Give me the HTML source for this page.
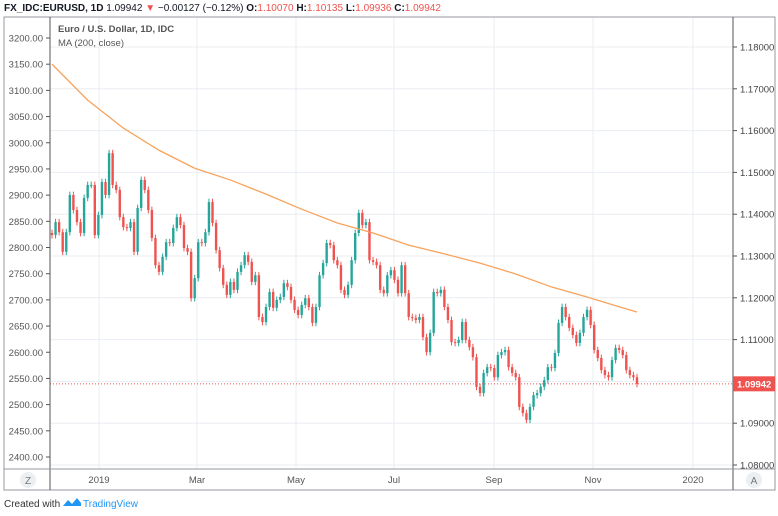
<!DOCTYPE html>
<html><head><meta charset="utf-8"><style>
body{margin:0;background:#fff;font-family:"Liberation Sans",sans-serif;}
svg text{font-family:"Liberation Sans",sans-serif;}
</style></head><body>
<svg id="c" width="778" height="511" xmlns="http://www.w3.org/2000/svg">
<text x="4" y="11" font-size="10" fill="#131722"><tspan font-weight="bold">FX_IDC:EURUSD, 1D</tspan> 1.09942 <tspan fill="#ef5350">▼</tspan> −0.00127 (−0.12%) <tspan font-weight="bold">O:</tspan><tspan fill="#ef5350">1.10070</tspan> <tspan font-weight="bold">H:</tspan><tspan fill="#ef5350">1.10135</tspan> <tspan font-weight="bold">L:</tspan><tspan fill="#ef5350">1.09936</tspan> <tspan font-weight="bold">C:</tspan><tspan fill="#ef5350">1.09942</tspan></text>
<g id="grid"></g>
<g id="marks"></g>
<rect x="4" y="17" width="771" height="473" fill="none" stroke="#9598a1" stroke-width="1"/>
<line x1="50" y1="17" x2="50" y2="490" stroke="#555"/>
<line x1="733" y1="17" x2="733" y2="490" stroke="#555"/>
<line x1="4" y1="469" x2="775" y2="469" stroke="#9598a1"/>
<text x="58" y="32" font-size="9.5" font-weight="bold" fill="#555">Euro / U.S. Dollar, 1D, IDC</text>
<text x="58" y="46" font-size="9.5" fill="#555">MA (200, close)</text>
<g id="axes"></g>
<circle cx="28" cy="480" r="8" fill="#eceff2"/>
<text x="28" y="484" font-size="10" fill="#777" text-anchor="middle">Z</text>
<circle cx="754" cy="480" r="8" fill="#eceff2"/>
<text x="754" y="484" font-size="10" fill="#777" text-anchor="middle">A</text>
<text x="4" y="507" font-size="10" fill="#333">Created with</text>
<path d="M63 506 l5 -6 l4 4 l5 -6 l4 5 v3 z" fill="#2196f3"/>
<text x="83" y="507" font-size="10" fill="#2196f3">TradingView</text>
</svg>
<script>
const closes=[1.1350,1.1381,1.1357,1.1310,1.1357,1.1446,1.1410,1.1381,1.1355,1.1439,1.1470,1.1470,1.1350,1.1398,1.1477,1.1446,1.1546,1.1470,1.1458,1.1393,1.1369,1.1367,1.1381,1.1310,1.1415,1.1482,1.1458,1.1410,1.1343,1.1278,1.1262,1.1298,1.1333,1.1331,1.1367,1.1393,1.1374,1.1319,1.1310,1.1199,1.1247,1.1333,1.1331,1.1357,1.1429,1.1379,1.1314,1.1271,1.1231,1.1207,1.1238,1.1219,1.1262,1.1278,1.1302,1.1286,1.1238,1.1254,1.1154,1.1142,1.1178,1.1214,1.1176,1.1195,1.1202,1.1235,1.1226,1.1195,1.1171,1.1159,1.1183,1.1199,1.1178,1.1140,1.1178,1.1254,1.1283,1.1331,1.1326,1.1290,1.1278,1.1219,1.1207,1.1231,1.1290,1.1355,1.1403,1.1374,1.1381,1.1290,1.1286,1.1278,1.1219,1.1211,1.1254,1.1266,1.1243,1.1211,1.1278,1.1211,1.1154,1.1152,1.1147,1.1154,1.1106,1.1070,1.1116,1.1214,1.1211,1.1219,1.1178,1.1147,1.1094,1.1092,1.1099,1.1142,1.1099,1.1082,1.1058,1.0987,1.0972,1.1020,1.1034,1.1032,1.1010,1.1063,1.1070,1.1075,1.1034,1.1020,1.1010,1.0939,1.0924,1.0908,1.0939,1.0967,1.0972,1.0987,1.1003,1.1034,1.1032,1.1068,1.1140,1.1178,1.1154,1.1128,1.1111,1.1092,1.1116,1.1154,1.1171,1.1135,1.1075,1.1056,1.1027,1.1015,1.1010,1.1051,1.1080,1.1075,1.1063,1.1027,1.1015,1.1010,1.0994];
const maValues=[1.1759,1.1673,1.1606,1.1553,1.1510,1.1482,1.1448,1.1412,1.1379,1.1355,1.1326,1.1305,1.1283,1.1257,1.1226,1.1202,1.1176,1.1166];
const maIndex=[0,10,20,30,40,50,60,70,80,90,100,110,120,130,140,150,160,164];
const rightTicks=["1.08000","1.09000","1.10000","1.11000","1.12000","1.13000","1.14000","1.15000","1.16000","1.17000","1.18000"];
const leftTicks=[2400,2450,2500,2550,2600,2650,2700,2750,2800,2850,2900,2950,3000,3050,3100,3150,3200];
const monthLabels=["2019","Mar","May","Jul","Sep","Nov","2020"];
const monthX=[99,197,296,394,494,593,693];
const lastPrice=1.09942;
const NS="http://www.w3.org/2000/svg";
const y=p=>465-(p-1.08)*4180;
const x=i=>52+i*(637-52)/(closes.length-1);
const yl=v=>457-(v-2400)*(419/800);
function mk(t,a,par){const e=document.createElementNS(NS,t);for(const k in a)e.setAttribute(k,a[k]);par.appendChild(e);return e;}
const grid=document.getElementById('grid'),marks=document.getElementById('marks'),axes=document.getElementById('axes');
rightTicks.forEach(t=>{const yy=y(parseFloat(t));
 const g=mk('line',{x1:50,x2:733,y1:yy,y2:yy,stroke:'#e9eef2'},grid);
 
 
 const tk=mk('line',{x1:733,x2:737,y1:yy,y2:yy,stroke:'#555'},axes);
 
 
 const tx=mk('text',{x:740,y:yy+3.5,'font-size':9.5,fill:'#444'},axes);tx.textContent=t;
 
 });
leftTicks.forEach(v=>{const yy=yl(v);
 const tk=mk('line',{x1:46,x2:50,y1:yy,y2:yy,stroke:'#555'},axes);
 
 
 const tx=mk('text',{x:43,y:yy+3.5,'font-size':9.5,fill:'#555','text-anchor':'end'},axes);tx.textContent=v.toFixed(2);
 
 });
monthLabels.forEach((m,i)=>{const xx=monthX[i];
 const g=mk('line',{x1:xx,x2:xx,y1:17,y2:469,stroke:'#e9eef2'},grid);
 
 
 const tx=mk('text',{x:xx,y:483,'font-size':9.5,fill:'#555','text-anchor':'middle'},axes);tx.textContent=m;
 
 });
for(let i=0;i<closes.length;i++){
 const o=i?closes[i-1]:closes[0]+0.0005,c=closes[i];
 const up=c>=o,col=up?'#26a69a':'#ef5350';
 const hi=Math.max(o,c)+0.0008,lo=Math.min(o,c)-0.0008,xx=x(i);
 const w=mk('line',{x1:xx,x2:xx,y1:y(hi),y2:y(lo),stroke:col,'stroke-width':1},marks);
 
 
 const t=Math.min(y(o),y(c)),h=Math.max(1,Math.abs(y(o)-y(c)));
 const b=mk('rect',{x:xx-1.2,y:t,width:2.4,height:h,fill:col},marks);
 
 
}
const pl=mk('polyline',{points:maValues.map((v,k)=>x(maIndex[k])+','+y(v)).join(' '),fill:'none',stroke:'#f7a35c','stroke-width':1.3},marks);


const ly=y(lastPrice);
const ll=mk('line',{x1:50,x2:733,y1:ly,y2:ly,stroke:'#ef5350','stroke-dasharray':'1,2','stroke-width':1},marks);


const lb=mk('rect',{x:733,y:ly-7.5,width:42,height:15,fill:'#ef5350'},axes);


const lt=mk('text',{x:737,y:ly+3.5,'font-size':9.5,fill:'#fff','font-weight':'bold'},axes);lt.textContent=lastPrice.toFixed(5);


</script>
</body></html>
